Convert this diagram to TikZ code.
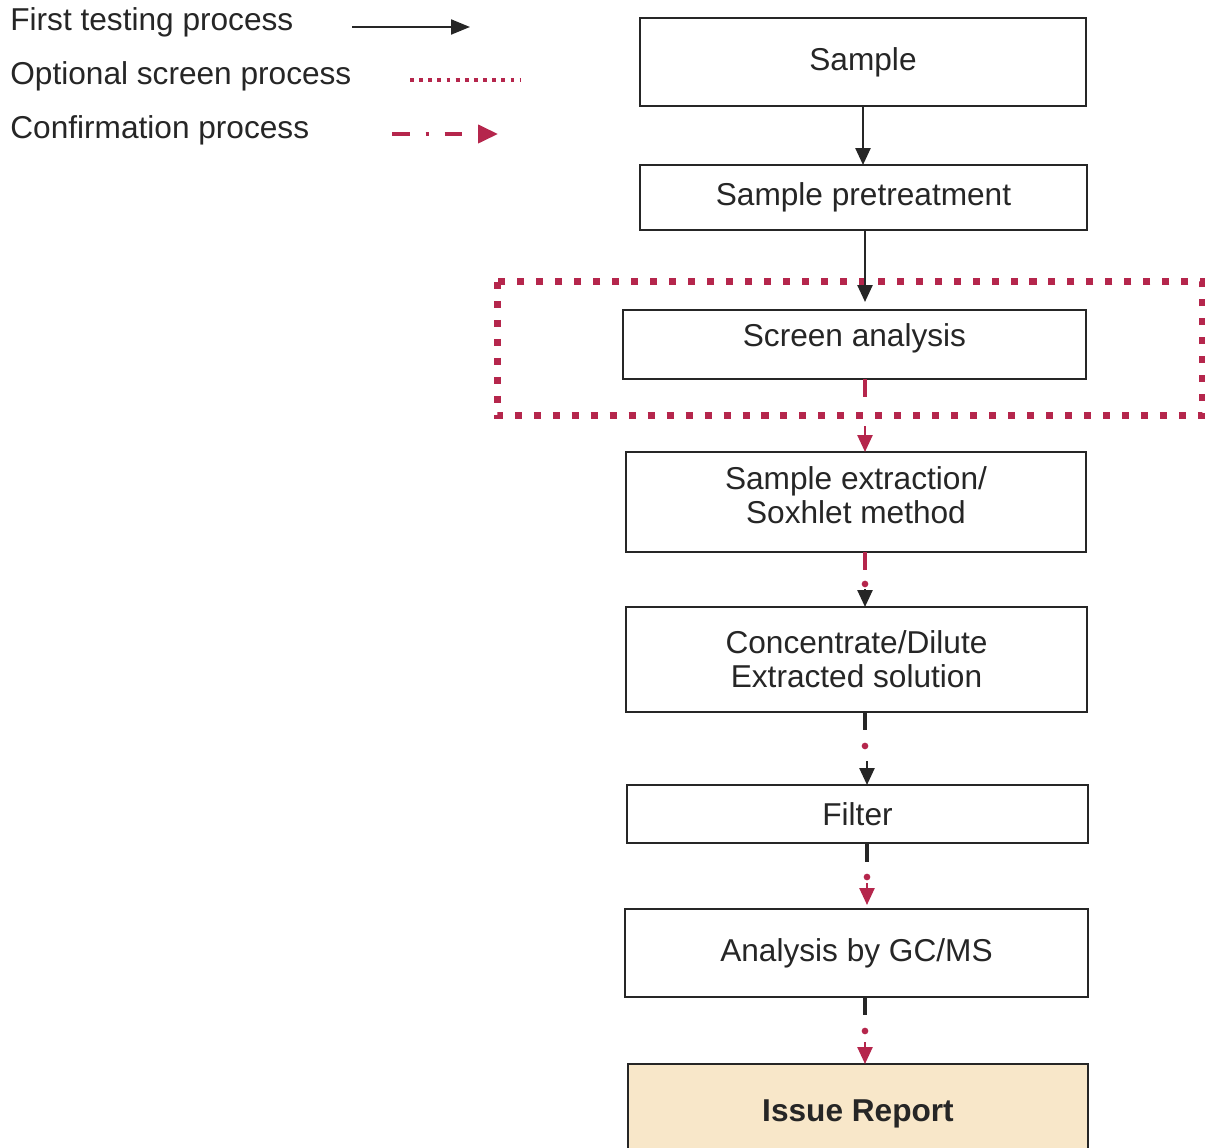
\documentclass[tikz,border=0pt]{standalone}
\usepackage{fontspec}
\setmainfont{Liberation Sans}
\usetikzlibrary{arrows.meta,calc}
\definecolor{cred}{HTML}{B5264C}
\definecolor{ink}{HTML}{262626}
\definecolor{beige}{HTML}{F8E7C9}
\tikzset{
  box/.style={draw=ink, line width=0.045cm, inner sep=0pt, outer sep=0pt, text=ink,
    font=\fontsize{18}{19.5}\selectfont, align=center},
  legtext/.style={anchor=west, inner sep=0pt, text=ink, font=\fontsize{18}{20}\selectfont},
  seg/.style={line width=0.075cm, line cap=butt},
  tip/.style={-{Triangle[length=0.34cm,width=0.3cm]}, line width=0.05cm},
}
\begin{document}
\begin{tikzpicture}[x=0.02cm,y=-0.02cm]
\useasboundingbox (0,0) rectangle (1205,1148);
\clip (0,0) rectangle (1205,1148);
\fill[white] (0,0) rectangle (1205,1148);

% legend
\node[legtext] (lt1) at (10,22) {First testing process};
\node[legtext] (lt2) at (10,76) {Optional screen process};
\node[legtext] (lt3) at (10,130) {Confirmation process};
\coordinate (la1) at (352,27); \coordinate (lb1) at (470,27);
\coordinate (la2) at (410,80); \coordinate (lb2) at (520,80);
\coordinate (la3) at (392,134); \coordinate (lb3) at (498,134);
\draw[ink, line width=0.04cm, -{Triangle[length=0.38cm,width=0.3cm]}] (la1) -- (lb1);
\draw[cred, line width=0.08cm, dash pattern=on 2.2pt off 3pt] (la2) -- (lb2);
\draw[cred, line width=0.08cm, dash pattern=on 10.2pt off 9pt on 1.7pt off 9pt,
  -{Triangle[length=0.4cm,width=0.36cm]}] (la3) -- (lb3);

% boxes
\node[box, minimum width=8.92cm, minimum height=1.76cm] (sample) at (863,62) {Sample};
\node[box, minimum width=8.94cm, minimum height=1.30cm] (pretr) at (863.5,197.5) {Sample pretreatment};
\node[box, minimum width=9.26cm, minimum height=1.38cm] (screen) at (854.5,344.5) {\raisebox{3.4pt}[\height][\depth]{Screen analysis}};
\node[box, minimum width=9.2cm, minimum height=2.0cm] (extr) at (856,502) {Sample extraction/\\Soxhlet method\\[-12pt]\mbox{}};
\node[box, minimum width=9.22cm, minimum height=2.10cm] (conc) at (856.5,659.5) {Concentrate/Dilute\\Extracted solution};
\node[box, minimum width=9.22cm, minimum height=1.16cm] (filter) at (857.5,814) {Filter};
\node[box, minimum width=9.26cm, minimum height=1.76cm] (gcms) at (856.5,953) {Analysis by GC/MS};
\node[box, fill=beige, minimum width=9.2cm, minimum height=2.0cm, font=\fontsize{18}{20}\selectfont\bfseries] (issue) at (858,1114) {Issue Report};

% optional screen frame
\draw[cred, line width=0.14cm, dash pattern=on 4pt off 6.8pt] (497,282) rectangle (1202,416);

% columns
\coordinate (ca) at (863,0);
\coordinate (cb) at (865,0);
\coordinate (cc) at (867,0);

% first testing arrows
\draw[ink, tip] (sample.south -| ca) -- (pretr.north -| ca);
\draw[ink, tip, shorten >=0.16cm] (pretr.south -| cb) -- (screen.north -| cb);

% screen -> extraction
\draw[cred, seg] (screen.south -| cb) -- ++(0,18);
\draw[cred, tip] ($(extr.north -| cb)+(0,-26)$) -- (extr.north -| cb);

% extraction -> concentrate
\draw[cred, seg] (extr.south -| cb) -- ++(0,18);
\fill[cred] ($(extr.south -| cb)+(0,32)$) circle (1.9pt);
\draw[ink, tip] ($(conc.north -| cb)+(0,-18)$) -- (conc.north -| cb);

% concentrate -> filter
\draw[ink, seg] (conc.south -| cb) -- ++(0,18);
\fill[cred] ($(conc.south -| cb)+(0,34)$) circle (1.9pt);
\draw[ink, tip] ($(filter.north -| cc)+(0,-24)$) -- (filter.north -| cc);

% filter -> analysis
\draw[ink, seg] (filter.south -| cc) -- ++(0,19);
\fill[cred] ($(filter.south -| cc)+(0,34)$) circle (1.9pt);
\draw[cred, tip, shorten >=0.08cm] ($(gcms.north -| cc)+(0,-26)$) -- (gcms.north -| cc);

% analysis -> issue
\draw[ink, seg] (gcms.south -| cb) -- ++(0,18);
\fill[cred] ($(gcms.south -| cb)+(0,34)$) circle (1.9pt);
\draw[cred, tip] ($(issue.north -| cb)+(0,-22)$) -- (issue.north -| cb);
\end{tikzpicture}
\end{document}
